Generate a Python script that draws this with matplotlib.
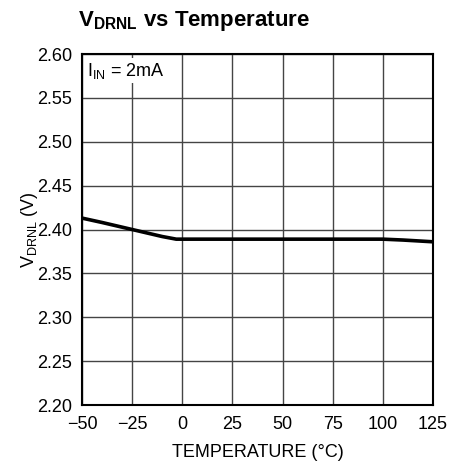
import numpy as np
import matplotlib.pyplot as plt

# temperature sweep and measured drain voltage
temp = [-50, -40, -25, -10, -3, 0, 25, 50, 75, 100, 110, 125]
vdrnl = [2.413, 2.408, 2.400, 2.392, 2.389, 2.389, 2.389, 2.389, 2.389, 2.389, 2.388, 2.386]

xticks = [-50, -25, 0, 25, 50, 75, 100, 125]
xticklabels = ['\u221250', '\u221225', '0', '25', '50', '75', '100', '125']
yticks = [2.20, 2.25, 2.30, 2.35, 2.40, 2.45, 2.50, 2.55, 2.60]

fam = 'Liberation Sans'
plt.rcParams['font.family'] = [fam, 'DejaVu Sans']
plt.rcParams['mathtext.fontset'] = 'custom'
plt.rcParams['mathtext.rm'] = fam
plt.rcParams['mathtext.it'] = fam
plt.rcParams['mathtext.bf'] = fam + ':bold'

fig = plt.figure(figsize=(4.64, 4.66), dpi=100)
ax = fig.add_axes([0.1767, 0.1309, 0.7565, 0.7532])

ax.plot(temp, vdrnl, color='black', lw=2.6, solid_capstyle='butt')

ax.set_xlim(-50, 125)
ax.set_ylim(2.20, 2.60)
ax.set_xticks(xticks)
ax.set_xticklabels(xticklabels)
ax.set_yticks(yticks)
ax.set_yticklabels([f'{v:.2f}' for v in yticks])
ax.tick_params(axis='x', length=0, labelsize=13, pad=8)
ax.tick_params(axis='y', length=0, labelsize=13, pad=7)
ax.grid(True, color='#444444', lw=1.0)
for s in ax.spines.values():
    s.set_linewidth(1.5)

ax.set_xlabel('TEMPERATURE (\u00b0C)', fontsize=13, labelpad=8)
ax.set_ylabel(r'V$_{\mathrm{DRNL}}$ (V)', fontsize=13, labelpad=-2)

ax.text(-47.5, 2.581, r'I$_{\mathrm{IN}}$ = 2mA', fontsize=13, va='center', ha='left',
        bbox=dict(facecolor='white', edgecolor='none', pad=2))

fig.text(0.168, 0.955, r'V$_{\mathbf{DRNL}}$ vs Temperature', fontsize=16,
         fontweight='bold', va='center', ha='left')

fig.savefig('out.png', dpi=100)
